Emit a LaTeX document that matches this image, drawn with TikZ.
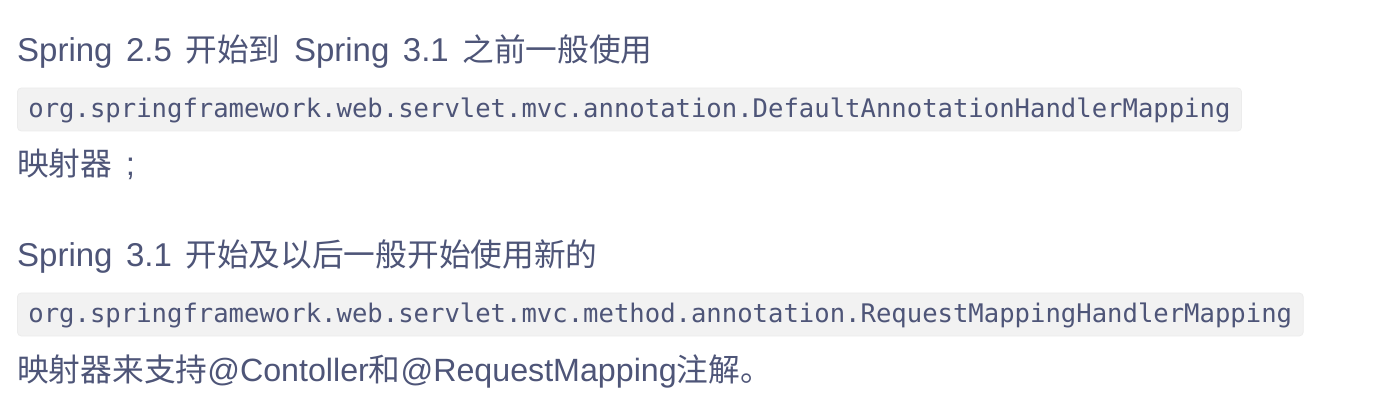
\documentclass[tikz,border=0pt]{standalone}
\usepackage{fontspec}
\setmainfont{Liberation Sans}
\setmonofont{DejaVu Sans Mono}
\newfontfamily\cjk{Noto Sans CJK SC}
\newcommand\zh[1]{{\cjk\fontsize{31.7}{40}\selectfont #1}}
\newcommand\parafont{\fontsize{33}{40}\selectfont\setlength{\spaceskip}{13.5pt}}
\definecolor{txt}{HTML}{4E5578}
\definecolor{codebg}{HTML}{F2F2F2}
\definecolor{codeedge}{HTML}{ECECEC}
\tikzset{
  para/.style={anchor=base west, inner sep=0pt, text=txt, font=\parafont},
  codebox/.style={anchor=base west, inner ysep=0pt, inner xsep=11pt, text height=29.5pt, text depth=13.5pt,
    fill=codebg, draw=codeedge, line width=0.8pt, rounded corners=4pt, text=txt,
    font=\ttfamily\fontsize{25.6}{30}\selectfont}
}
\begin{document}
\begin{tikzpicture}[x=1pt,y=-1pt]
\useasboundingbox (0,0) rectangle (1383,411);
\fill[white] (0,0) rectangle (1383,411);
\node[para] (l1) at (17,61.5) {Spring 2.5 \zh{开始到} Spring 3.1 \zh{之前一般使用}};
\node[codebox] (c1) at (17,117.5) {org.springframework.web.servlet.mvc.annotation.DefaultAnnotationHandlerMapping};
\node[para] (l3) at (17,176) {\zh{映射器} ;};
\node[para] (l4) at (17,266.5) {Spring 3.1 \zh{开始及以后一般开始使用新的}};
\node[codebox] (c2) at (17,322.5) {org.springframework.web.servlet.mvc.method.annotation.RequestMappingHandlerMapping};
\node[para, font=\fontsize{32.2}{40}\selectfont] (l6) at (17,381.5) {\zh{映射器来支持}@Contoller\zh{和}@RequestMapping\zh{注解。}};
\end{tikzpicture}
\end{document}
